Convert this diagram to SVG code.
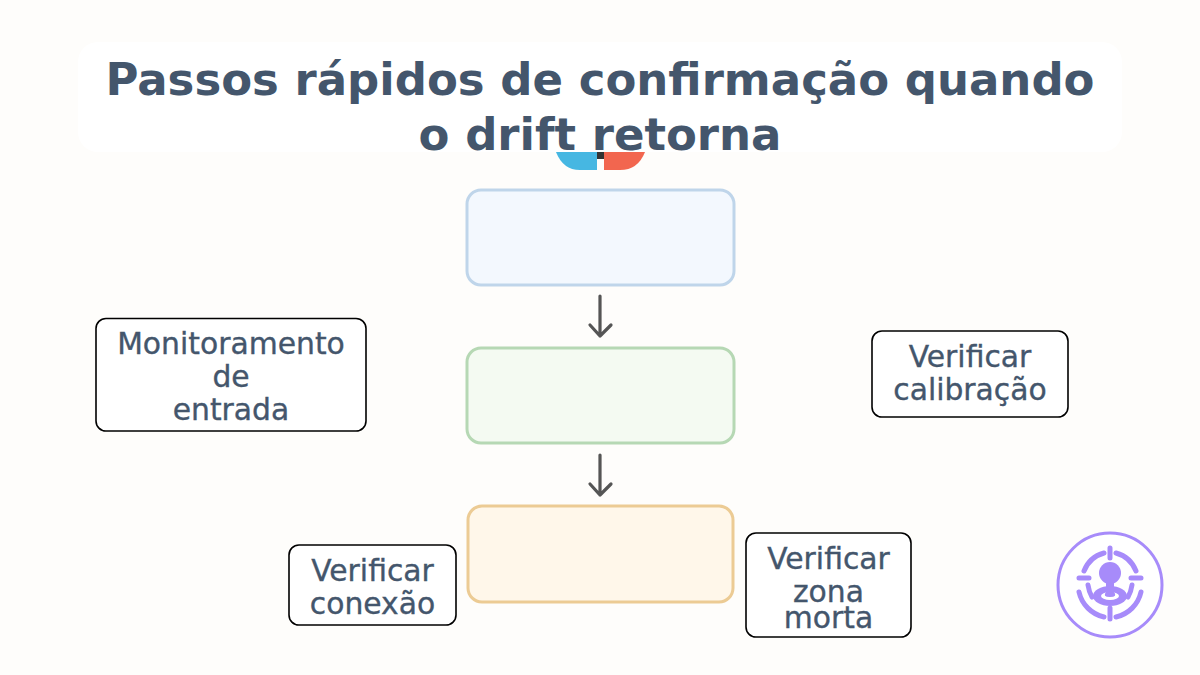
<svg xmlns="http://www.w3.org/2000/svg" width="1200" height="675" viewBox="0 0 1200 675">
<style>
.t{font-family:"DejaVu Sans",sans-serif;fill:#44566c;text-anchor:middle}
.title{font-size:45px;font-weight:700}
.lab{font-size:29.8px;stroke:#44566c;stroke-width:.35}
.box{fill:#fff;stroke:#000;stroke-width:1.6}
.flow{stroke-width:3}
.arr{fill:none;stroke:#555;stroke-width:3.2;stroke-linecap:round;stroke-linejoin:round}
.ic{fill:none;stroke:#a78bfa;stroke-width:5;stroke-linecap:round}
.icf{fill:#a78bfa}
</style>
<rect width="1200" height="675" fill="#fefdfb"/>
<g id="emblem">
<path d="M556 152H597V170H580Q563 170 556 152Z" fill="#46b7e2"/>
<path d="M604 152H645Q638 170 620 170H604Z" fill="#f2664f"/>
<rect x="597" y="152" width="7" height="7" fill="#333"/>
</g>
<g id="title">
<rect x="78" y="42" width="1044" height="110" rx="20" fill="#fff"/>
<text class="t title" x="600" y="95">Passos rápidos de confirmação quando</text>
<text class="t title" x="600" y="150">o drift retorna</text>
</g>
<g id="step1"><rect class="flow" x="467" y="190" width="267" height="95" rx="14" fill="#f3f8fe" stroke="#bfd5ea"/></g>
<g id="step2"><rect class="flow" x="467" y="348" width="267" height="95" rx="14" fill="#f4faf2" stroke="#b6d8b4"/></g>
<g id="step3"><rect class="flow" x="468" y="506" width="265" height="96" rx="14" fill="#fff7ea" stroke="#eccb94"/></g>
<g id="connectors">
<path class="arr" d="M600 296V336M590 325L600 336L611 325"/>
<path class="arr" d="M600 455V495M590 484L600 495L611 484"/>
</g>
<g id="monitor">
<rect class="box" x="96" y="318.500" width="270" height="112.500" rx="10"/>
<text class="t lab" x="231" y="354">Monitoramento</text>
<text class="t lab" x="231" y="387">de</text>
<text class="t lab" x="231" y="420">entrada</text>
</g>
<g id="calibracao">
<rect class="box" x="872" y="331" width="196" height="86" rx="10"/>
<text class="t lab" x="970" y="367">Verificar</text>
<text class="t lab" x="970" y="400">calibração</text>
</g>
<g id="conexao">
<rect class="box" x="289" y="545" width="167" height="80" rx="10"/>
<text class="t lab" x="372.500" y="581">Verificar</text>
<text class="t lab" x="372.500" y="614">conexão</text>
</g>
<g id="zona">
<rect class="box" x="746" y="533" width="165" height="104" rx="10"/>
<text class="t lab" x="828.500" y="569">Verificar</text>
<text class="t lab" x="828.500" y="602">zona</text>
<text class="t lab" x="828.500" y="628">morta</text>
</g>
<g id="icon">
<circle cx="1110" cy="585" r="52" fill="#fff" stroke="#a78bfa" stroke-width="3"/>
<path class="ic" d="M1084 571A30 30 0 0 1 1104 553M1116 553A30 30 0 0 1 1136 571" stroke-width="4.500"/>
<path class="ic" d="M1079 592A33 33 0 0 0 1104 617M1116 617A33 33 0 0 0 1141 592" stroke-width="4"/>
<path class="ic" d="M1088 585Q1089 592 1092 597M1132 585Q1131 592 1128 597" stroke-width="4"/>
<path class="ic" d="M1110 548V558M1110 608V619M1079 578H1089M1131 578H1141" stroke-width="4"/>
<circle class="icf" cx="1110" cy="573" r="11"/>
<ellipse class="icf" cx="1110" cy="596" rx="17" ry="10"/>
<ellipse cx="1110" cy="596" rx="9" ry="4" fill="#fff"/>
<path class="icf" d="M1106 582H1114V592Q1118 597 1110 597Q1102 597 1106 592Z"/>
</g>
</svg>
